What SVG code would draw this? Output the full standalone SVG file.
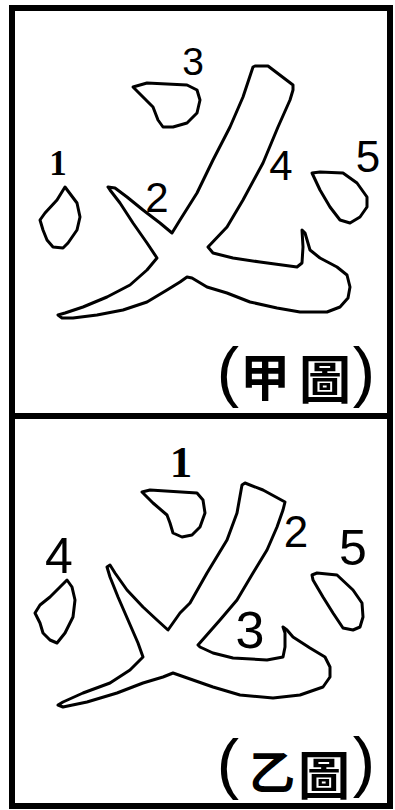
<svg xmlns="http://www.w3.org/2000/svg" width="395" height="810" viewBox="0 0 395 810">
<style>
.frame{fill:none;stroke:#000;stroke-width:6}
.ol{fill:#fff;stroke:#000;stroke-width:3;stroke-linejoin:round;stroke-linecap:round}
.num{font-family:"Liberation Sans",Arial,sans-serif;fill:#000;text-anchor:middle}
.one{font-family:"Liberation Serif","Times New Roman",serif;fill:#000;text-anchor:middle}
.cjk{font-family:"Noto Sans CJK TC","Noto Sans CJK SC",sans-serif;font-weight:bold;fill:#000;text-anchor:middle}
.par{font-family:"Liberation Sans",Arial,sans-serif;fill:#000;text-anchor:middle}
</style>
<rect x="0" y="0" width="395" height="810" fill="#fff"/>
<g id="frame">
<rect class="frame" x="12" y="8" width="378" height="798"/>
<line class="frame" x1="12" y1="416" x2="390" y2="416"/>
</g>
<g id="panel-jia">
<g id="jia-stroke1"><path class="ol" d="M65,187 L77,203 L80,217 L77,230 L68,243 L63,248 L53,247 L47,240 L43,230 L40,220 L45,213 L57,200 Z"/><text class="one" x="58" y="175" font-size="35" font-weight="bold">1</text></g>
<g id="jia-stroke3"><path class="ol" d="M133,87 L147,83 L187,85 L197,90 L200,100 L197,113 L187,123 L173,127 L163,127 L158,120 L153,107 L143,97 Z"/><text class="num" x="193" y="75" font-size="39">3</text></g>
<g id="jia-main"><path class="ol" d="M255,66 L268,66 L293,85 L293,90 L290,100 L278,127 L263,163 L243,200 L227,227 L208,247 L213,253 L233,258 L260,262 L297,267 L302,263 L303,247 L302,230 L305,233 L310,250 L320,258 L337,267 L347,275 L350,287 L348,298 L340,307 L327,312 L300,312 L277,308 L250,302 L227,293 L207,287 L192,278 L187,277 L180,282 L167,290 L147,302 L123,310 L97,315 L73,318 L62,318 L58,315 L65,313 L83,307 L107,297 L130,285 L147,270 L157,258 L147,243 L133,223 L120,203 L110,190 L108,187 L115,188 L127,197 L143,210 L160,223 L172,233 L180,220 L197,193 L213,160 L230,127 L243,97 L253,67 Z"/>
<text class="num" x="157" y="212" font-size="42">2</text>
<text class="num" x="281" y="180" font-size="42">4</text></g>
<g id="jia-stroke5"><path class="ol" d="M312,173 L320,172 L343,173 L357,183 L367,197 L367,207 L360,217 L350,223 L340,220 L330,207 L320,190 Z"/><text class="num" x="368" y="172" font-size="44">5</text></g>
<g id="jia-caption">
<text class="par" x="228" y="394" font-size="67">(</text>
<text class="cjk" x="265" y="396" font-size="50">甲</text>
<text class="cjk" x="325" y="399" font-size="52">圖</text>
<text class="par" x="364" y="394" font-size="67">)</text>
</g>
</g>
<g id="panel-yi">
<g id="yi-stroke1"><path class="ol" d="M142,492 L150,490 L197,493 L203,500 L205,513 L200,527 L192,535 L182,537 L173,533 L170,523 L167,515 L153,503 Z"/><text class="one" x="181" y="477" font-size="45" font-weight="bold">1</text></g>
<g id="yi-main"><path class="ol" d="M242,485 L245,483 L263,490 L285,502 L283,510 L277,527 L267,550 L253,573 L237,600 L220,620 L198,645 L200,647 L213,653 L233,658 L267,660 L283,657 L285,647 L285,633 L283,627 L287,630 L293,637 L310,648 L325,657 L330,667 L330,677 L323,687 L300,695 L273,698 L240,695 L213,687 L193,680 L173,673 L163,677 L143,683 L117,693 L87,702 L63,707 L58,705 L63,702 L83,693 L110,683 L130,670 L143,657 L138,643 L128,620 L118,597 L110,577 L107,567 L110,565 L115,573 L127,590 L143,607 L157,620 L168,630 L180,613 L190,603 L207,573 L227,540 L237,513 Z"/>
<text class="num" x="296" y="547" font-size="44">2</text>
<text class="num" x="250" y="648" font-size="52">3</text></g>
<g id="yi-stroke4"><path class="ol" d="M67,580 L72,587 L75,600 L73,617 L65,633 L57,643 L50,640 L43,633 L40,623 L35,613 L40,605 L50,597 L60,587 Z"/><text class="num" x="59" y="573" font-size="50">4</text></g>
<g id="yi-stroke5"><path class="ol" d="M312,575 L317,573 L337,575 L353,590 L362,603 L363,617 L360,627 L353,630 L343,628 L333,613 L323,597 L313,580 Z"/><text class="num" x="353" y="565" font-size="50">5</text></g>
<g id="yi-caption">
<text class="par" x="228" y="786" font-size="67">(</text>
<text class="cjk" x="272" y="789" font-size="46">乙</text>
<text class="cjk" x="324" y="795" font-size="52">圖</text>
<text class="par" x="364" y="784" font-size="67">)</text>
</g>
</g>
</svg>
